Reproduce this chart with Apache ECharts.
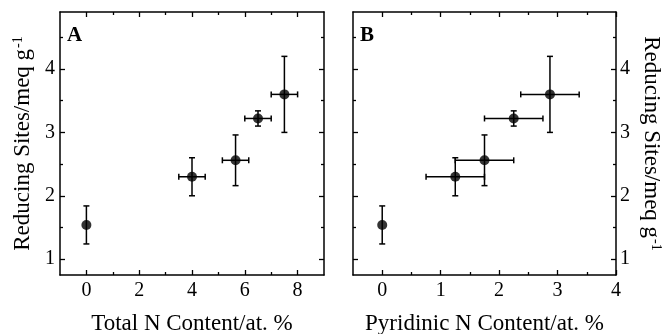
<!DOCTYPE html>
<html>
<head>
<meta charset="utf-8">
<script src="https://cdn.jsdelivr.net/npm/echarts@6/dist/echarts.min.js"></script>
<style>html,body{margin:0;padding:0;background:#fff;}#c{width:663px;height:334px;}</style>
</head>
<body>
<div id="c"></div>
<script>
// ---- data ----
const totalN      = [0, 4, 5.65, 6.5, 7.5];
const totalNErr   = [0, 0.5, 0.5, 0.5, 0.5];
const pyridinicN    = [0, 1.25, 1.75, 2.25, 2.87];
const pyridinicNErr = [0, 0.5, 0.5, 0.5, 0.5];
const reducingSites    = [1.54, 2.3, 2.56, 3.22, 3.6];
const reducingSitesErr = [0.3, 0.3, 0.4, 0.12, 0.6];

const xTicksA = [0, 2, 4, 6, 8];
const xMinorA = [1, 3, 5, 7];
const xTicksB = [0, 1, 2, 3, 4];
const xMinorB = [0.5, 1.5, 2.5, 3.5];
const yTicks = [1, 2, 3, 4];
const yMinor = [1.5, 2.5, 3.5, 4.5];

const xTitleA = 'Total N Content/at. %';
const xTitleB = 'Pyridinic N Content/at. %';
const yTitle = '{a|Reducing Sites/meq g}{s|-1}';

// ---- styling ----
const FONT = 'Liberation Serif';
const INK = '#000';
const lineStyle = { color: INK, width: 1.5 };

function mkAxis(o) {
  return {
    type: 'value',
    gridIndex: o.grid,
    position: o.position,
    min: o.min, max: o.max,
    splitLine: { show: false },
    axisLine: { show: o.line, onZero: false, lineStyle: lineStyle },
    axisTick: { show: true, inside: true, length: o.len, customValues: o.ticks, lineStyle: { color: INK, width: 1.3 } },
    axisLabel: o.labels ? { show: true, customValues: o.labels, margin: o.margin, fontFamily: FONT, fontSize: 20, color: INK } : { show: false },
    name: o.name || '',
    nameLocation: 'middle',
    nameGap: o.nameGap || 0,
    nameRotate: o.nameRotate,
    nameTextStyle: o.name ? {
      fontFamily: FONT, fontSize: 23, color: INK,
      rich: {
        a: { fontFamily: FONT, fontSize: 23, color: INK },
        s: { fontFamily: FONT, fontSize: 14, color: INK, verticalAlign: 'top', padding: [0, 0, 0, 1] }
      }
    } : undefined
  };
}

const xAxes = [
  mkAxis({ grid: 0, position: 'bottom', min: -1, max: 9, line: true, ticks: xTicksA, len: 5, labels: xTicksA, margin: 6, name: xTitleA, nameGap: 37 }),
  mkAxis({ grid: 0, position: 'bottom', min: -1, max: 9, line: false, ticks: xMinorA, len: 3 }),
  mkAxis({ grid: 0, position: 'top', min: -1, max: 9, line: true, ticks: xTicksA, len: 5 }),
  mkAxis({ grid: 0, position: 'top', min: -1, max: 9, line: false, ticks: xMinorA, len: 3 }),
  mkAxis({ grid: 1, position: 'bottom', min: -0.5, max: 4, line: true, ticks: xTicksB, len: 5, labels: xTicksB, margin: 6, name: xTitleB, nameGap: 37 }),
  mkAxis({ grid: 1, position: 'bottom', min: -0.5, max: 4, line: false, ticks: xMinorB, len: 3 }),
  mkAxis({ grid: 1, position: 'top', min: -0.5, max: 4, line: true, ticks: xTicksB, len: 5 }),
  mkAxis({ grid: 1, position: 'top', min: -0.5, max: 4, line: false, ticks: xMinorB, len: 3 })
];
const yAxes = [
  mkAxis({ grid: 0, position: 'left', min: 0.75, max: 4.9, line: true, ticks: yTicks, len: 5, labels: yTicks, margin: 5, name: yTitle, nameGap: 26, nameRotate: 90 }),
  mkAxis({ grid: 0, position: 'left', min: 0.75, max: 4.9, line: false, ticks: yMinor, len: 3 }),
  mkAxis({ grid: 0, position: 'right', min: 0.75, max: 4.9, line: true, ticks: yTicks, len: 5 }),
  mkAxis({ grid: 0, position: 'right', min: 0.75, max: 4.9, line: false, ticks: yMinor, len: 3 }),
  mkAxis({ grid: 1, position: 'left', min: 0.75, max: 4.9, line: true, ticks: yTicks, len: 5 }),
  mkAxis({ grid: 1, position: 'left', min: 0.75, max: 4.9, line: false, ticks: yMinor, len: 3 }),
  mkAxis({ grid: 1, position: 'right', min: 0.75, max: 4.9, line: true, ticks: yTicks, len: 5, labels: yTicks, margin: 4, name: yTitle, nameGap: 24, nameRotate: -90 }),
  mkAxis({ grid: 1, position: 'right', min: 0.75, max: 4.9, line: false, ticks: yMinor, len: 3 })
];

function errRows(xs, xe) {
  return xs.map((x, i) => [x, reducingSites[i], xe[i], reducingSitesErr[i]]);
}
function pts(xs) {
  return xs.map((x, i) => [x, reducingSites[i]]);
}

function renderErr(params, api) {
  const x = api.value(0), y = api.value(1), xe = api.value(2), ye = api.value(3);
  const c = api.coord([x, y]);
  const st = { stroke: INK, lineWidth: 1.5 };
  const cap = 3;
  const ch = [];
  if (ye > 0) {
    const t = api.coord([x, y + ye]), b = api.coord([x, y - ye]);
    ch.push({ type: 'line', shape: { x1: c[0], y1: t[1], x2: c[0], y2: b[1] }, style: st });
    ch.push({ type: 'line', shape: { x1: c[0] - cap, y1: t[1], x2: c[0] + cap, y2: t[1] }, style: st });
    ch.push({ type: 'line', shape: { x1: c[0] - cap, y1: b[1], x2: c[0] + cap, y2: b[1] }, style: st });
  }
  if (xe > 0) {
    const l = api.coord([x - xe, y]), r = api.coord([x + xe, y]);
    ch.push({ type: 'line', shape: { x1: l[0], y1: c[1], x2: r[0], y2: c[1] }, style: st });
    ch.push({ type: 'line', shape: { x1: l[0], y1: c[1] - cap, x2: l[0], y2: c[1] + cap }, style: st });
    ch.push({ type: 'line', shape: { x1: r[0], y1: c[1] - cap, x2: r[0], y2: c[1] + cap }, style: st });
  }
  return { type: 'group', children: ch };
}

const option = {
  animation: false,
  backgroundColor: '#fff',
  grid: [
    { left: 60, top: 12, width: 264, height: 263, outerBoundsMode: 'none', containLabel: false },
    { left: 353, top: 12, width: 263, height: 263, outerBoundsMode: 'none', containLabel: false }
  ],
  xAxis: xAxes,
  yAxis: yAxes,
  graphic: [
    { type: 'text', left: 67, top: 25, style: { text: 'A', fontFamily: FONT, fontWeight: 'bold', fontSize: 21, fill: INK } },
    { type: 'text', left: 360, top: 25, style: { text: 'B', fontFamily: FONT, fontWeight: 'bold', fontSize: 21, fill: INK } }
  ],
  series: [
    { type: 'custom', xAxisIndex: 0, yAxisIndex: 0, data: errRows(totalN, totalNErr), encode: { x: 0, y: 1 }, renderItem: renderErr, z: 2 },
    { type: 'scatter', xAxisIndex: 0, yAxisIndex: 0, data: pts(totalN), symbol: 'circle', symbolSize: 10, itemStyle: { color: INK }, z: 3 },
    { type: 'custom', xAxisIndex: 4, yAxisIndex: 4, data: errRows(pyridinicN, pyridinicNErr), encode: { x: 0, y: 1 }, renderItem: renderErr, z: 2 },
    { type: 'scatter', xAxisIndex: 4, yAxisIndex: 4, data: pts(pyridinicN), symbol: 'circle', symbolSize: 10, itemStyle: { color: INK }, z: 3 }
  ]
};

const chart = echarts.init(document.getElementById('c'), null, { renderer: 'canvas' });
chart.setOption(option);
</script>
</body>
</html>
